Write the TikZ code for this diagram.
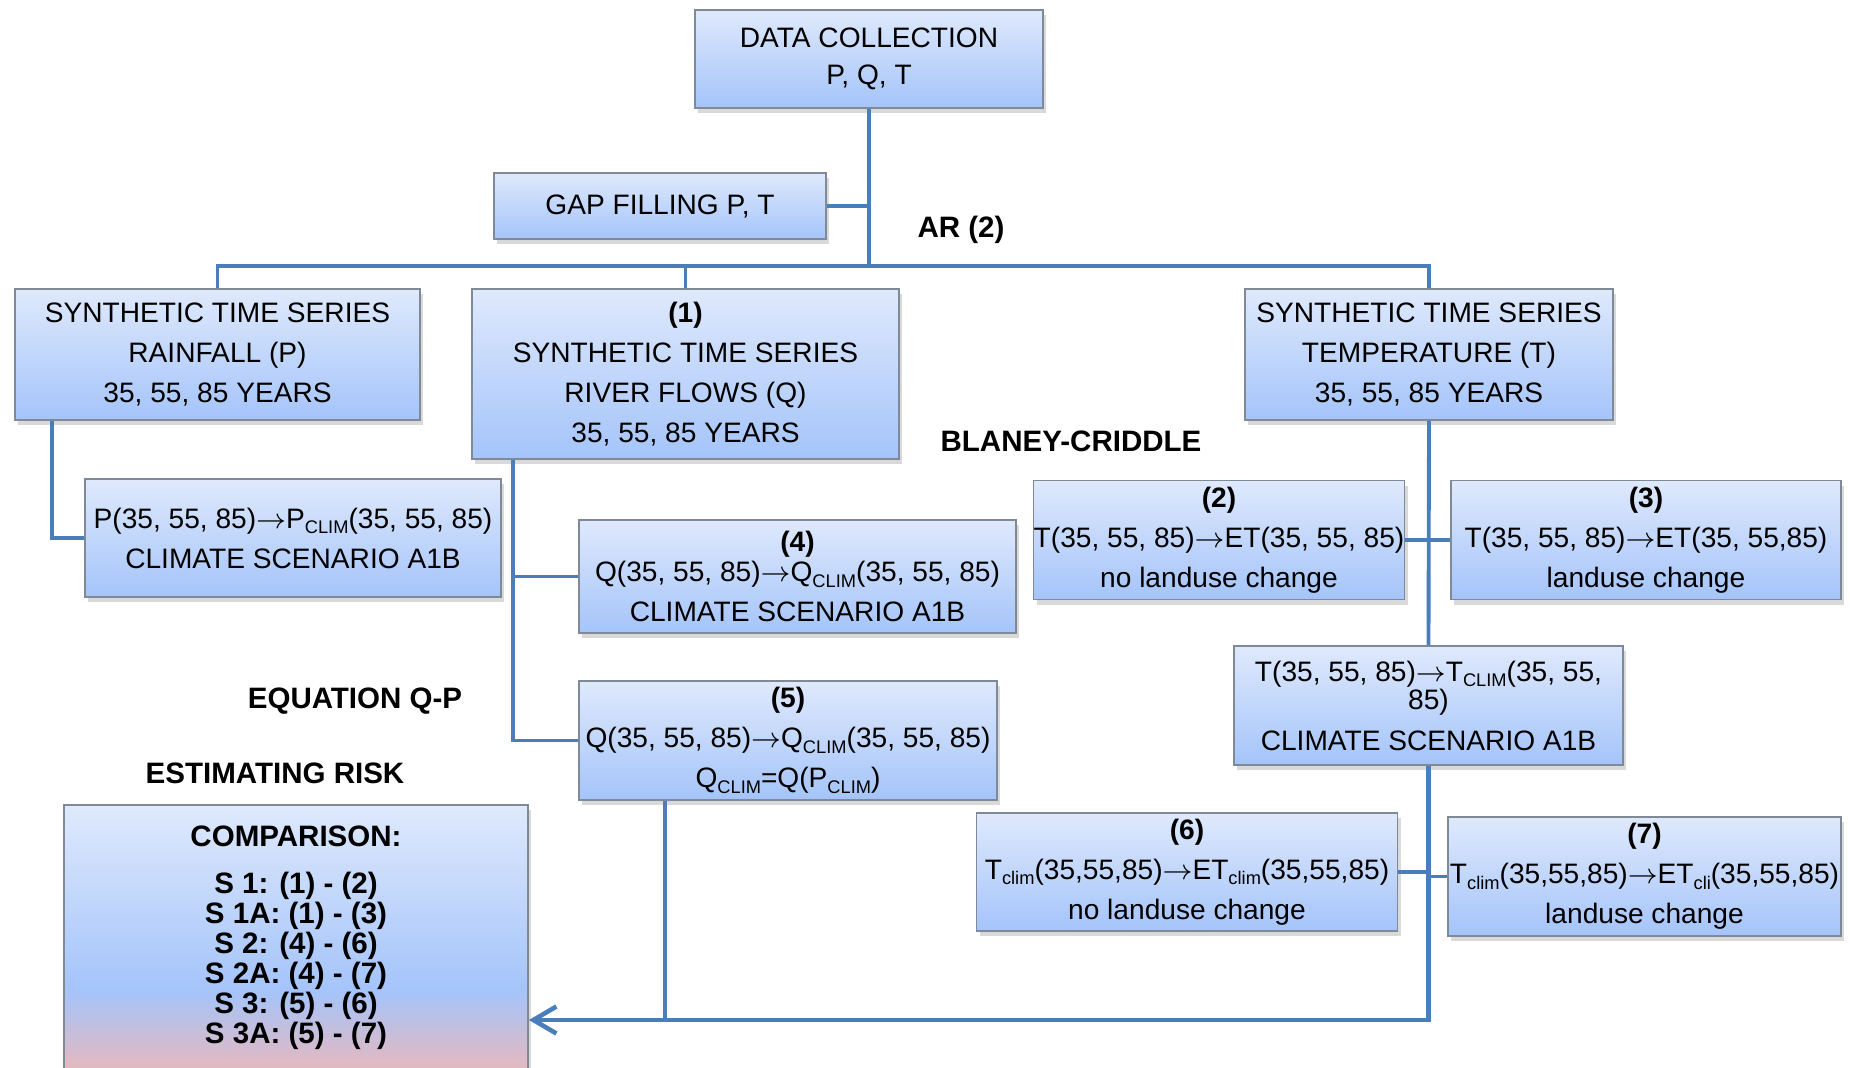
\documentclass[tikz,border=0pt]{standalone}
\usepackage{fontspec}
\setmainfont{Liberation Sans}
\usetikzlibrary{arrows.meta,shadows}

\definecolor{wireblue}{RGB}{74,126,187}
\definecolor{boxtop}{RGB}{223,233,252}
\definecolor{boxbottom}{RGB}{164,196,250}
\definecolor{boxline}{RGB}{128,138,150}
\definecolor{riskpink}{RGB}{230,184,190}
\pgfdeclareverticalshading{riskshade}{100bp}{color(0bp)=(riskpink); color(25bp)=(riskpink);
	color(40bp)=(boxbottom); color(75bp)=(boxtop); color(100bp)=(boxtop)}
\newcommand{\lowtxt}[1]{\raisebox{-1.6pt}{\fontsize{5.2}{5.2}\selectfont #1}}
\newcommand{\toarr}{$\rightarrow$}

\begin{document}
\begin{tikzpicture}[
	box/.style={draw=boxline, line width=0.5pt, top color=boxtop, bottom color=boxbottom,
		align=center, inner sep=0pt, font=\fontsize{8}{11.4}\selectfont,
		drop shadow={shadow xshift=0.03cm, shadow yshift=-0.05cm, opacity=0.3}},
	wire/.style={draw=wireblue, line width=1.1pt},
	tag/.style={font=\fontsize{8.4}{10}\selectfont\bfseries}
]
	\useasboundingbox (0,0) rectangle (18.5,-10.68);
	% Boxes:
	\node[box, minimum width=3.48cm, minimum height=0.98cm] (data) at (8.69,-0.59){DATA COLLECTION\\[-0.9pt]P, Q, T};
	\node[box, minimum width=3.32cm, minimum height=0.66cm] (gap) at (6.60,-2.06){GAP FILLING P, T};
	\node[box, minimum width=4.05cm, minimum height=1.31cm] (rain) at (2.175,-3.545){SYNTHETIC TIME SERIES\\RAINFALL (P)\\35, 55, 85 YEARS};
	\node[box, minimum width=4.27cm, minimum height=1.70cm] (river) at (6.855,-3.74){\textbf{(1)}\\SYNTHETIC TIME SERIES\\RIVER FLOWS (Q)\\35, 55, 85 YEARS};
	\node[box, minimum width=3.68cm, minimum height=1.31cm] (temp) at (14.29,-3.545){SYNTHETIC TIME SERIES\\TEMPERATURE (T)\\35, 55, 85 YEARS};
	\node[box, minimum width=4.16cm, minimum height=1.18cm] (pclim) at (2.93,-5.38){P(35, 55, 85)\toarr P\lowtxt{CLIM}(35, 55, 85)\\CLIMATE SCENARIO A1B};
	\node[box, minimum width=4.37cm, minimum height=1.13cm] (qfour) at (7.975,-5.765){\textbf{(4)}\\[-2.7pt]Q(35, 55, 85)\toarr Q\lowtxt{CLIM}(35, 55, 85)\\CLIMATE SCENARIO A1B};
	\node[box, minimum width=4.18cm, minimum height=1.19cm] (qfive) at (7.88,-7.405){\textbf{(5)}\\Q(35, 55, 85)\toarr Q\lowtxt{CLIM}(35, 55, 85)\\Q\lowtxt{CLIM}=Q(P\lowtxt{CLIM})};
	\node[box, minimum width=3.71cm, minimum height=1.19cm] (et2) at (12.19,-5.40){\textbf{(2)}\\T(35, 55, 85)\toarr ET(35, 55, 85)\\no landuse change};
	\node[box, minimum width=3.90cm, minimum height=1.19cm] (et3) at (16.46,-5.40){\textbf{(3)}\\T(35, 55, 85)\toarr ET(35, 55,85)\\landuse change};
	\node[box, minimum width=3.89cm, minimum height=1.19cm] (tclim) at (14.285,-7.055){T(35, 55, 85)\toarr T\lowtxt{CLIM}(35, 55,\\[-3.2pt]85)\\CLIMATE SCENARIO A1B};
	\node[box, minimum width=4.21cm, minimum height=1.18cm] (et6) at (11.87,-8.72){\textbf{(6)}\\T\lowtxt{clim}(35,55,85)\toarr ET\lowtxt{clim}(35,55,85)\\no landuse change};
	\node[box, minimum width=3.93cm, minimum height=1.19cm] (et7) at (16.445,-8.765){\textbf{(7)}\\T\lowtxt{clim}(35,55,85)\toarr ET\lowtxt{cli}(35,55,85)\\landuse change};
	\node[box, font=\fontsize{8.4}{11.4}\selectfont\bfseries, minimum width=4.64cm, minimum height=2.65cm,
		shading=riskshade] (comp) at (2.96,-9.375){COMPARISON:\\[2.2pt]S 1: (1) - (2)\\[-2.9pt]S 1A: (1) - (3)\\[-2.9pt]S 2: (4) - (6)\\[-2.9pt]S 2A: (4) - (7)\\[-2.9pt]S 3: (5) - (6)\\[-2.9pt]S 3A: (5) - (7)};
	% Labels:
	\node[tag] (ar) at (9.61,-2.30){AR (2)};
	\node[tag] (blaney) at (10.71,-4.41){BLANEY-CRIDDLE};
	\node[tag] (eqqp) at (3.55,-7.01){EQUATION Q-P};
	\node[tag] (risk) at (2.75,-7.73){ESTIMATING RISK};
	% Wires:
	\coordinate (bus) at (8.69,-2.66);
	\coordinate (qline) at ([xshift=0.42cm]river.south west);
	\coordinate (pline) at ([xshift=0.38cm]rain.south west);
	\coordinate (qdrop) at ([xshift=0.87cm]qfive.south west);
	\coordinate (tsink) at (14.285,-10.20);
	\draw[wire] (data.south) -- (bus);
	\draw[wire] (gap.east) -- (gap.east -| bus);
	\draw[wire] (rain.north) |- (bus) -| (temp.north);
	\draw[wire] (river.north) -- (river.north |- bus);
	\draw[wire] (pline) |- (pclim.west);
	\draw[wire] (qline) |- (qfive.west);
	\draw[wire] (qfour.west) -- (qfour.west -| qline);
	\draw[wire] (temp.south) -- (tclim.north);
	\draw[wire] (et2.east) -- (et3.west);
	\draw[wire] (et6.east) -- (et6.east -| tsink);
	\draw[wire] (et7.west) -- (et7.west -| tsink);
	\draw[wire] (qdrop) -- (qdrop |- tsink);
	\draw[wire, line width=1.3pt, -{Straight Barb[length=0.23cm, width=0.27cm]}] (tclim.south) |- (comp.east |- tsink);
\end{tikzpicture}
\end{document}
